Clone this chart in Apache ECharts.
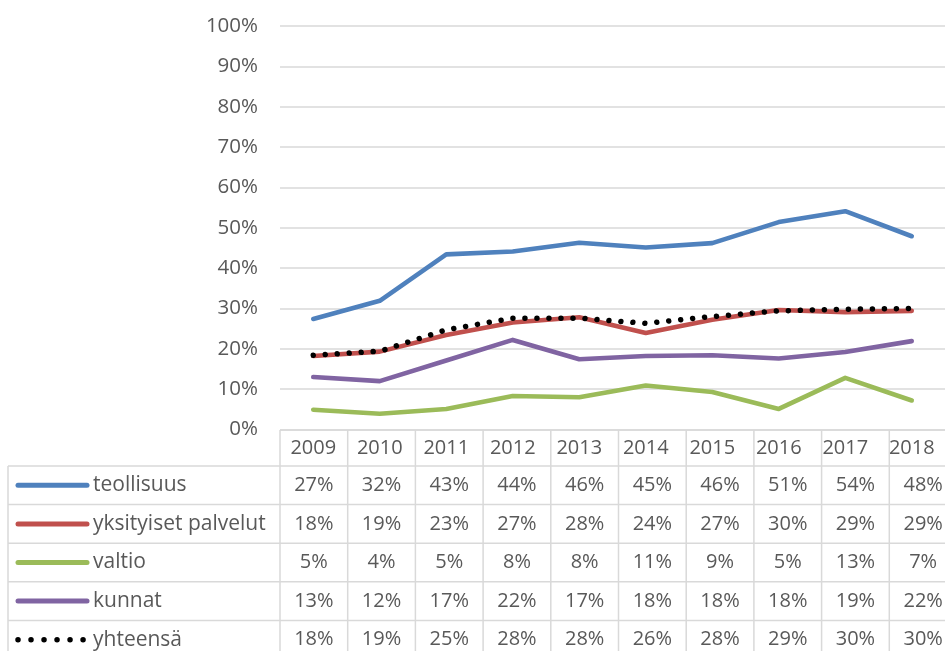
<!DOCTYPE html>
<html>
<head>
<meta charset="utf-8">
<style>
  html, body { margin: 0; padding: 0; background: #ffffff; }
  #main { width: 945px; height: 651px; }
</style>
</head>
<body>
<div id="main"></div>
<script src="https://cdn.jsdelivr.net/npm/echarts@6/dist/echarts.min.js"></script>
<script>
// vuodet (x-akseli)
var years = ['2009', '2010', '2011', '2012', '2013', '2014', '2015', '2016', '2017', '2018'];
var yTicks = [0, 10, 20, 30, 40, 50, 60, 70, 80, 90, 100];

// osuudet prosentteina, luettu kuvasta
var teollisuus = [27.4, 31.9, 43.4, 44.1, 46.3, 45.1, 46.2, 51.4, 54.1, 47.9];
var yksityiset = [18.2, 19.3, 23.4, 26.5, 27.8, 23.9, 27.2, 29.6, 29.1, 29.4];
var valtio     = [4.9, 3.9, 5.1, 8.3, 8.0, 10.9, 9.3, 5.1, 12.8, 7.2];
var kunnat     = [13.0, 12.0, 17.1, 22.2, 17.4, 18.2, 18.4, 17.6, 19.2, 21.9];
var yhteensa   = [18.4, 19.4, 24.7, 27.6, 27.6, 26.3, 28.0, 29.4, 29.8, 30.0];

var seriesNames = ['teollisuus', 'yksityiset palvelut', 'valtio', 'kunnat', 'yhteensä'];
var seriesData = [teollisuus, yksityiset, valtio, kunnat, yhteensa];
var colors = ['#4F81BD', '#C0504D', '#9BBB59', '#8064A2', '#000000'];

var FONT = '"Open Sans", "Noto Sans", sans-serif';
var TXT = '#595959';
var LINE = '#d9d9d9';

// taulukon mitat
var gridLeft = 280, gridTop = 26, gridH = 403.5;
var colW = 67.7;
var tableTop = 430, headH = 36, rowH = 38.6;
var legLeft = 8;

var myChart = echarts.init(document.getElementById('main'));

// taulukon viivat ja tekstit
var graphic = [];
var tableRight = gridLeft + colW * years.length;
var tableBottom = 700;
graphic.push({ type: 'line', shape: { x1: gridLeft, y1: tableTop, x2: tableRight, y2: tableTop }, style: { stroke: LINE, lineWidth: 1.5 } });
for (var r = 0; r <= seriesNames.length; r++) {
  var yy = tableTop + headH + r * rowH;
  graphic.push({ type: 'line', shape: { x1: legLeft, y1: yy, x2: tableRight, y2: yy }, style: { stroke: LINE, lineWidth: 1.5 } });
}
for (var c = 0; c <= years.length; c++) {
  var xx = gridLeft + c * colW;
  graphic.push({ type: 'line', shape: { x1: xx, y1: tableTop, x2: xx, y2: tableBottom }, style: { stroke: LINE, lineWidth: 1.5 } });
}
graphic.push({ type: 'line', shape: { x1: legLeft, y1: tableTop + headH, x2: legLeft, y2: tableBottom }, style: { stroke: LINE, lineWidth: 1.5 } });

seriesNames.forEach(function (name, i) {
  var cy = tableTop + headH + i * rowH + rowH / 2;
  var dotted = i === seriesNames.length - 1;
  graphic.push({
    type: 'line',
    shape: { x1: dotted ? 18 : 18, y1: cy, x2: dotted ? 84 : 87, y2: cy },
    style: dotted
      ? { stroke: colors[i], lineWidth: 5.5, lineCap: 'round', lineDash: [0.01, 13] }
      : { stroke: colors[i], lineWidth: 5, lineCap: 'round' }
  });
  graphic.push({
    type: 'text', x: 93, y: cy,
    style: { text: name, fill: TXT, font: '21px ' + FONT, textVerticalAlign: 'middle', textAlign: 'left' }
  });
  seriesData[i].forEach(function (v, j) {
    graphic.push({
      type: 'text', x: gridLeft + (j + 0.5) * colW, y: cy,
      style: { text: Math.round(v) + '%', fill: TXT, font: '20px ' + FONT, textVerticalAlign: 'middle', textAlign: 'center' }
    });
  });
});

var series = seriesNames.map(function (name, i) {
  var dotted = i === seriesNames.length - 1;
  return {
    name: name,
    type: 'line',
    data: seriesData[i],
    symbol: 'none',
    smooth: false,
    z: dotted ? 5 : 3,
    lineStyle: dotted
      ? { color: colors[i], width: 5.5, type: [0.01, 12], cap: 'round' }
      : { color: colors[i], width: 4.6, cap: 'round', join: 'round' }
  };
});

var option = {
  animation: false,
  backgroundColor: '#ffffff',
  color: colors,
  grid: { left: gridLeft, top: gridTop, width: colW * years.length, height: gridH, containLabel: false },
  xAxis: {
    type: 'category',
    data: years,
    boundaryGap: true,
    axisLine: { show: false },
    axisTick: { show: false },
    splitLine: { show: false },
    axisLabel: { color: TXT, fontSize: 20, fontFamily: FONT, margin: 18.5, verticalAlign: 'middle' }
  },
  yAxis: {
    type: 'value',
    min: yTicks[0],
    max: yTicks[yTicks.length - 1],
    interval: 10,
    axisLine: { show: false },
    axisTick: { show: false },
    splitLine: { lineStyle: { color: LINE, width: 1.5 } },
    axisLabel: { color: TXT, fontSize: 20.5, fontFamily: FONT, margin: 22, formatter: '{value}%' }
  },
  graphic: graphic,
  series: series
};
myChart.setOption(option);
</script>
</body>
</html>
